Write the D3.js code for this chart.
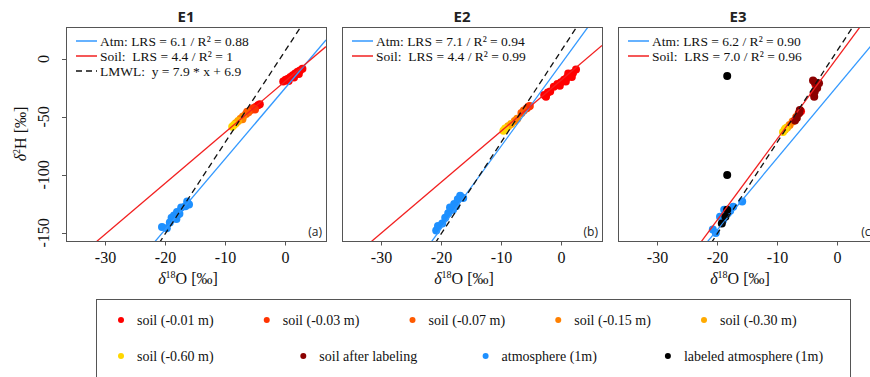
<!DOCTYPE html>
<html>
<head>
<meta charset="utf-8">
<script src="https://cdn.jsdelivr.net/npm/d3@7"></script>
<style>
  body { margin: 0; background: #fff; }
  text { white-space: pre; }
  .serif { font-family: "Liberation Serif", "Times New Roman", "DejaVu Serif", serif; }
  .sans { font-family: "Open Sans", "Liberation Sans", sans-serif; }
</style>
</head>
<body>
<svg id="chart" width="870" height="377"></svg>
<script>
// panels and axes
const panels = ["E1", "E2", "E3"];
const panelTags = ["(a)", "(b)", "(c)"];
const xTicks = [-30, -20, -10, 0];
const yTicks = [0, -50, -100, -150];

// regression lines per panel
const atmSlope = [6.1, 7.1, 6.2];
const atmIntercept = [-25.3, -4.35, -23.7];
const atmR2 = ["0.88", "0.94", "0.90"];
const soilSlope = [4.4, 4.4, 7.0];
const soilIntercept = [-19.3, -18.4, 0.8];
const soilR2 = ["1", "0.99", "0.96"];
const lmwlSlope = 7.9;
const lmwlIntercept = 6.9;

const seriesNames = ["soil (-0.01 m)", "soil (-0.03 m)", "soil (-0.07 m)", "soil (-0.15 m)", "soil (-0.30 m)",
                     "soil (-0.60 m)", "soil after labeling", "atmosphere (1m)", "labeled atmosphere (1m)"];
const seriesColors = ["#ff0000", "#ff3300", "#ff5a00", "#ff8000", "#ffaa00",
                      "#ffd700", "#8b0000", "#1e90ff", "#000000"];

// samples: [panel index, d18O, d2H]
const soil001 = [
  [0,-0.3,-19.5],[0,0.1,-18],[0,0.5,-17],[0,0.9,-15.5],[0,1.3,-14],[0,1.7,-12.5],[0,2.1,-11],[0,2.5,-10],
  [0,2.9,-8.5],[0,0.6,-19],[0,1.5,-16],[0,2.3,-13],[0,-4.9,-41.5],[0,-4.5,-40],[0,-4.2,-39],
  [1,-1.2,-24],[1,-0.6,-21.5],[1,0,-20],[1,0.5,-18],[1,1,-16],[1,1.5,-13.5],[1,2,-12],[1,2.5,-9],
  [1,0.8,-19.5],[1,-0.2,-23],[1,1.8,-15.5],[1,1.2,-12.5],[1,-2.8,-31],[1,-2.2,-29],[1,-1.8,-28],[1,-2.5,-32.5],
  [2,-3.6,-22],[2,-3.9,-30],[2,-6.0,-45]
];
const soil003 = [[0,-5.3,-42.5],[0,-5.7,-44],[0,-5.0,-43.5],[1,-5.2,-40.5],[1,-5.7,-42.5],[1,-5.4,-41],[2,-6.4,-47]];
const soil007 = [[0,-6.1,-46],[0,-6.5,-47.5],[0,-6.3,-45.5],[1,-6.2,-44.5],[1,-6.6,-46.5],[2,-6.8,-50]];
const soil015 = [[0,-7.0,-49.5],[0,-7.4,-51.5],[0,-7.1,-52],[1,-7.3,-51.5],[1,-7.7,-53.5],[2,-7.4,-54],[2,-7.9,-57]];
const soil030 = [[0,-7.8,-53.5],[0,-8.2,-55.5],[1,-8.3,-56],[1,-8.8,-58],[2,-8.3,-59],[2,-8.7,-61]];
const soil060 = [[0,-8.5,-57],[0,-8.8,-58.5],[1,-9.3,-60],[1,-9.6,-62],[2,-9.0,-63],[2,-8.6,-60]];
const soilLabeled = [
  [2,-3.7,-20],[2,-3.3,-25],[2,-3.8,-32.5],[2,-3.0,-21],[2,-3.7,-28],[2,-4.0,-18.5],
  [2,-6.3,-46.5],[2,-6.7,-51],[2,-6.2,-44],[2,-7.0,-53]
];
const atm = [
  [0,-20.5,-145],[0,-19.7,-146],[0,-19.2,-141],[0,-18.9,-137],[0,-18.5,-135],[0,-18,-132],[0,-17.6,-133.5],
  [0,-17.3,-128],[0,-16.6,-127],[0,-16.3,-123],[0,-16,-125.5],[0,-18.1,-138],[0,-17.8,-134],
  [1,-20.8,-148],[1,-20.5,-144],[1,-19.8,-142],[1,-19.3,-137],[1,-18.8,-133],[1,-18.5,-128],[1,-18,-130],
  [1,-17.8,-125],[1,-17.2,-121],[1,-16.8,-118],[1,-16.3,-120],[1,-17.5,-127],
  [2,-15.8,-123],[2,-17.3,-127.5],[2,-19.5,-136],[2,-20.7,-147],[2,-18.2,-133],[2,-19,-139],[2,-20.2,-150],
  [2,-18.8,-130],[2,-17.8,-131]
];
const atmLabeled = [[2,-18.3,-14.7],[2,-18.3,-100],[2,-18.3,-130],[2,-18.6,-136],[2,-19.2,-142]];

// drawing order: atmosphere first, labeled atmosphere last
const drawOrder = [
  { data: atm, color: seriesColors[7] },
  { data: soil001, color: seriesColors[0] },
  { data: soil003, color: seriesColors[1] },
  { data: soil007, color: seriesColors[2] },
  { data: soil015, color: seriesColors[3] },
  { data: soil030, color: seriesColors[4] },
  { data: soil060, color: seriesColors[5] },
  { data: soilLabeled, color: seriesColors[6] },
  { data: atmLabeled, color: seriesColors[8] }
];

const panelLeft = [66, 342, 618];
const panelW = 260;
const plotTop = 27, plotBottom = 241;

const svg = d3.select("#chart");

panels.forEach((name, p) => {

    const left = panelLeft[p];
    const x = d3.scaleLinear().domain([-36.5, 6.83]).range([left, left + panelW]);
    const y = d3.scaleLinear().domain([-157, 27.6]).range([plotBottom, plotTop]);

    const g = svg.append("g");

    g.append("clipPath")
        .attr("id", "clip" + p)
      .append("rect")
        .attr("x", left).attr("y", plotTop)
        .attr("width", panelW).attr("height", plotBottom - plotTop);

    const plot = g.append("g").attr("clip-path", `url(#clip${p})`);

    // points
    drawOrder.forEach(s => {
        plot.selectAll(null)
            .data(s.data.filter(d => d[0] === p))
            .enter()
            .append("circle")
                .attr("cx", d => x(d[1]))
                .attr("cy", d => y(d[2]))
                .attr("r", 4)
                .attr("fill", s.color);
    });

    // regression lines
    const line = (slope, b) => d3.line()
        .x(d => x(d))
        .y(d => y(slope * d + b))(x.domain());

    plot.append("path")
        .attr("d", line(atmSlope[p], atmIntercept[p]))
        .attr("fill", "none").attr("stroke", "#3399ff").attr("stroke-width", 1.3);
    plot.append("path")
        .attr("d", line(soilSlope[p], soilIntercept[p]))
        .attr("fill", "none").attr("stroke", "#f22020").attr("stroke-width", 1.3);
    plot.append("path")
        .attr("d", line(lmwlSlope, lmwlIntercept))
        .attr("fill", "none").attr("stroke", "#111").attr("stroke-width", 1.3)
        .attr("stroke-dasharray", "6,4");

    // box
    g.append("rect")
        .attr("x", left + 0.5).attr("y", plotTop + 0.5)
        .attr("width", panelW).attr("height", plotBottom - plotTop)
        .attr("fill", "none").attr("stroke", "#555").attr("stroke-width", 1);

    // x axis
    const xAxis = g.append("g")
        .attr("transform", `translate(0,${plotBottom + 0.5})`)
        .call(d3.axisBottom(x).tickValues(xTicks).tickSize(4).tickPadding(6.5).tickFormat(d => String(d)));
    xAxis.select(".domain").remove();
    xAxis.attr("font-family", null).attr("font-size", null);
    xAxis.selectAll("line").attr("stroke", "#555");
    xAxis.selectAll("text").attr("class", "serif").style("font-size", "16px").attr("fill", "#111");

    g.append("text")
        .attr("class", "serif")
        .attr("x", left + panelW / 2 - 8)
        .attr("y", 284)
        .attr("text-anchor", "middle")
        .style("font-size", "16px").attr("fill", "#111")
        .call(t => {
            t.append("tspan").attr("font-style", "italic").text("δ");
            t.append("tspan").style("font-size", "10px").attr("dy", -6).text("18");
            t.append("tspan").attr("dy", 6).text("O [‰]");
        });

    // y axis only on the first panel
    if (p === 0) {
        g.selectAll(".ytick")
            .data(yTicks)
            .enter()
            .append("line")
                .attr("x1", left - 4).attr("x2", left)
                .attr("y1", d => Math.round(y(d)) + 0.5).attr("y2", d => Math.round(y(d)) + 0.5)
                .attr("stroke", "#555");
        g.selectAll(".ylab")
            .data(yTicks)
            .enter()
            .append("text")
                .attr("class", "serif")
                .attr("transform", d => `translate(49,${y(d)}) rotate(-90)`)
                .attr("text-anchor", "middle")
                .style("font-size", "16px").attr("fill", "#111")
                .text(d => String(d));

        g.append("text")
            .attr("class", "serif")
            .attr("transform", `translate(26,${(plotTop + plotBottom) / 2}) rotate(-90)`)
            .attr("text-anchor", "middle")
            .style("font-size", "16px").attr("fill", "#111")
            .call(t => {
                t.append("tspan").attr("font-style", "italic").text("δ");
                t.append("tspan").style("font-size", "10px").attr("dy", -6).text("2");
                t.append("tspan").attr("dy", 6).text("H [‰]");
            });
    }

    // title and tag
    g.append("text")
        .attr("class", "sans")
        .attr("x", left + panelW / 2 - 10)
        .attr("y", 22)
        .attr("text-anchor", "middle")
        .attr("font-weight", 700).style("font-size", "15px").attr("fill", "#222")
        .text(name);

    g.append("text")
        .attr("class", "sans")
        .attr("x", left + panelW - 4)
        .attr("y", 236)
        .attr("text-anchor", "end")
        .style("font-size", "12px").attr("fill", "#222")
        .text(panelTags[p]);

    // in-panel legend
    const entries = [
        { color: "#3399ff", dash: null, label: `Atm: LRS = ${atmSlope[p].toFixed(1)} / R² = ${atmR2[p]}` },
        { color: "#f22020", dash: null, label: `Soil:  LRS = ${soilSlope[p].toFixed(1)} / R² = ${soilR2[p]}` }
    ];
    if (p === 0) entries.push({ color: "#111", dash: "6,4", label: `LMWL:  y = ${lmwlSlope} * x + ${lmwlIntercept}` });

    entries.forEach((e, i) => {
        const ry = 41 + i * 15;
        g.append("line")
            .attr("x1", left + 10).attr("x2", left + 31)
            .attr("y1", ry).attr("y2", ry)
            .attr("stroke", e.color).attr("stroke-width", 1.5)
            .attr("stroke-dasharray", e.dash);
        g.append("text")
            .attr("class", "serif")
            .attr("x", left + 34).attr("y", ry + 4.5)
            .style("font-size", "13.5px").attr("fill", "#111")
            .text(e.label);
    });
});

// bottom legend
svg.append("rect")
    .attr("x", 96.5).attr("y", 299.5)
    .attr("width", 754).attr("height", 100)
    .attr("fill", "none").attr("stroke", "#555");

const legendRows = [
    { y: 320, start: 121, step: 145.75, items: [0, 1, 2, 3, 4] },
    { y: 356, start: 121, step: 182.3, items: [5, 6, 7, 8] }
];

legendRows.forEach(row => {
    row.items.forEach((k, i) => {
        const lx = row.start + i * row.step;
        svg.append("circle")
            .attr("cx", lx).attr("cy", row.y).attr("r", 3)
            .attr("fill", seriesColors[k]);
        svg.append("text")
            .attr("class", "serif")
            .attr("x", lx + 16).attr("y", row.y + 5)
            .style("font-size", "14px").attr("fill", "#111")
            .text(seriesNames[k]);
    });
});
</script>
</body>
</html>
